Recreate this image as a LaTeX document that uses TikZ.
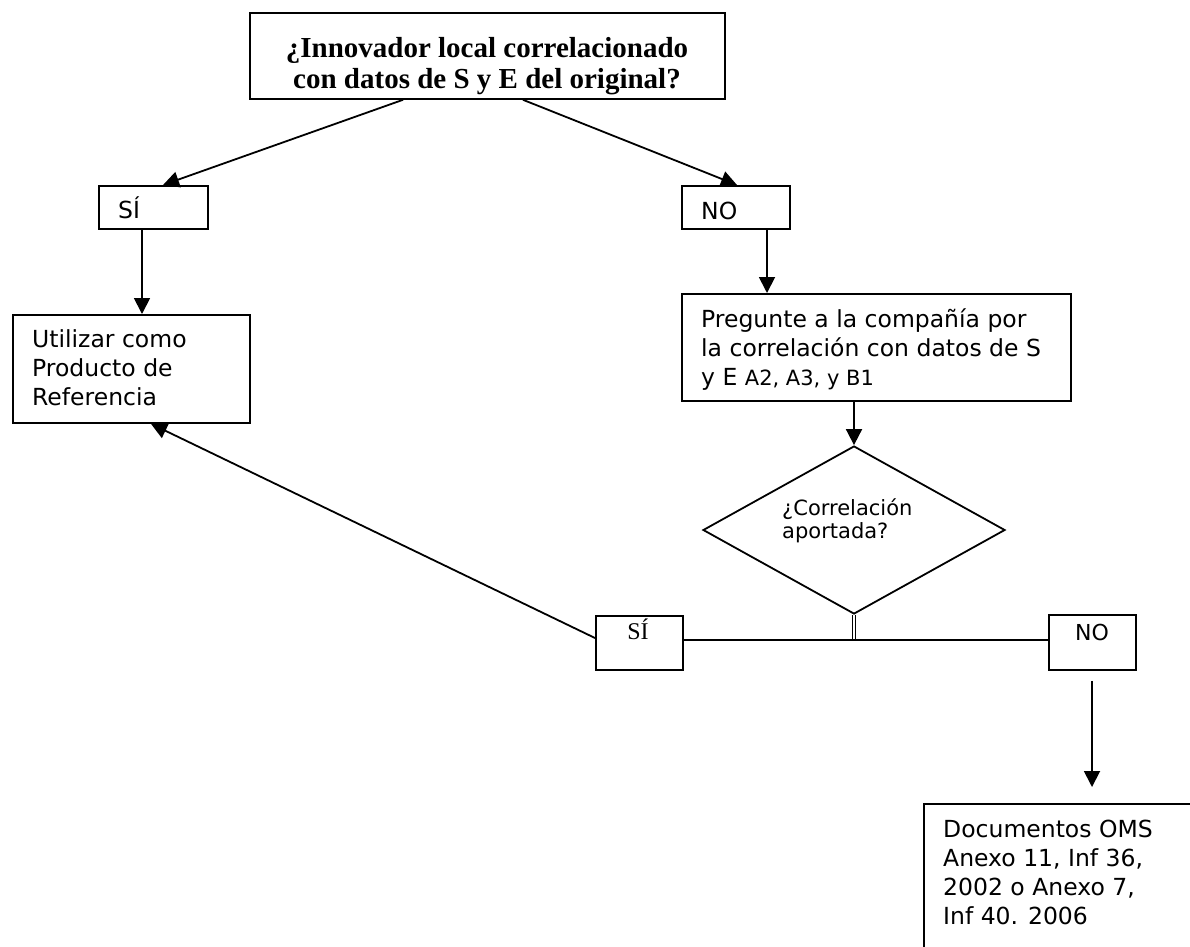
\documentclass[tikz,border=0pt]{standalone}
\usepackage{fontspec}
\setmainfont{Liberation Serif}
\newfontfamily\vfont{DejaVu Sans}
\usetikzlibrary{arrows.meta,shapes.geometric,calc}
\tikzset{
  box/.style={draw, line width=1.8pt, inner sep=0pt, anchor=north west},
  arr/.style={line width=1.8pt, -{Triangle[length=16pt,width=16pt]}},
  ln/.style={line width=1.8pt},
  vt/.style={font=\vfont\fontsize{23.5}{29}\selectfont, anchor=base west, inner sep=0pt},
  vts/.style={font=\vfont\fontsize{21}{23.5}\selectfont, anchor=base west, inner sep=0pt},
  st/.style={font=\fontsize{24}{28}\selectfont, anchor=base, inner sep=0pt},
  bt/.style={font=\bfseries\fontsize{29}{31}\selectfont, anchor=base, inner sep=0pt},
}
\begin{document}
\begin{tikzpicture}[x=1pt,y=-1pt]
\useasboundingbox (0,0) rectangle (1190,946);
\clip (0,0) rectangle (1190,946);
\fill[white] (0,0) rectangle (1190,946);

% boxes
\node[box, minimum width=475pt, minimum height=86pt] (tb) at (249,12) {};
\node[box, minimum width=109pt, minimum height=43pt] (si1) at (98,185) {};
\node[box, minimum width=108pt, minimum height=43pt] (no1) at (681,185) {};
\node[box, minimum width=237pt, minimum height=108pt] (ut) at (12,314) {};
\node[box, minimum width=389pt, minimum height=107pt] (pr) at (681,293) {};
\node[draw, diamond, line width=1.8pt, inner sep=0pt, minimum width=302pt, minimum height=168pt] (dia) at (854,530) {};
\node[box, minimum width=87pt, minimum height=54pt] (si2) at (595,615) {};
\node[box, minimum width=87pt, minimum height=55pt] (no2) at (1048,614) {};
\node[box, minimum width=300pt, minimum height=200pt] (doc) at (923,803) {};

% texts
\node[bt] (tbt) at (487,57) {\vtop{\hbox to 0pt{\hss ¿Innovador local correlacionado\hss}\hbox to 0pt{\hss con datos de S y E del original?\hss}}};
\node[vt] (si1t) at (118,218) {SÍ};
\node[vt] (no1t) at (701,219) {NO};
\node[vt] (utt) at (32,347) {\vtop{\hbox{Utilizar como}\hbox{Producto de}\hbox{Referencia}}};
\node[vt] (prt) at (701,327) {\vtop{\hbox{Pregunte a la compañía por}\hbox{la correlación con datos de S}\hbox{y E {\fontsize{21}{29}\selectfont A2, A3, y B1}}}};
\node[vts] (diat) at (782,515) {\vtop{\hbox{¿Correlación}\hbox{aportada?}}};
\node[st] (si2t) at (638,639) {SÍ};
\node[vt, font=\vfont\fontsize{22}{27}\selectfont] (no2t) at (1075,640) {NO};
\node[vt] (doct) at (943,837) {\vtop{\hbox{Documentos OMS}\hbox{Anexo 11, Inf 36,}\hbox{2002 o Anexo 7,}\hbox{Inf 40. 2006}}};

% connectors
\draw[arr] ($(tb.south west)+(154,0)$) -- ($(si1.north west)+(65,0)$);
\draw[arr] ($(tb.south west)+(274,0)$) -- ($(no1.north west)+(56,0)$);
\draw[arr] ($(si1.south west)+(44,0)$) -- ($(ut.north west)+(130,0)$);
\draw[arr] ($(no1.south west)+(86,0)$) -- ($(pr.north west)+(86,0)$);
\draw[arr] ($(pr.south west)+(173,0)$) -- (dia.north);
\coordinate (j) at (854,640);
\draw[double, double distance=2pt, line width=1.2pt] (dia.south) -- (j);
\draw[ln] (j -| si2.east) -- (j -| no2.west);
\draw[arr] ($(si2.north west)+(0,23)$) -- ($(ut.south west)+(139,0)$);
\coordinate (s7) at ($(no2.south west)+(44,10)$);
\coordinate (e7) at ($(doc.north west)+(169,-16)$);
\draw[arr] (s7) -- (e7);
\end{tikzpicture}
\end{document}
